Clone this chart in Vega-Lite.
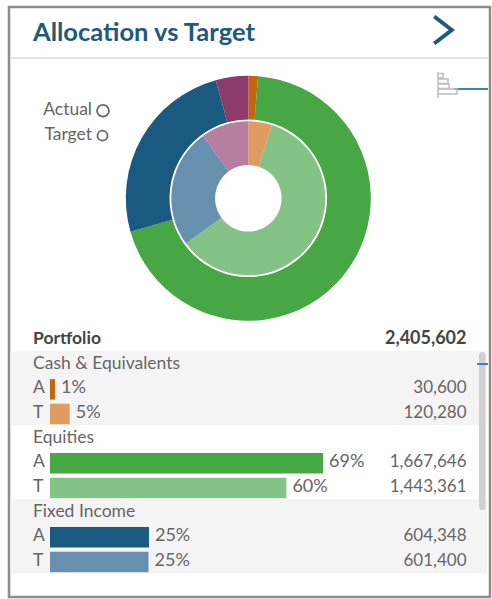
{
 "$schema":"https://vega.github.io/schema/vega-lite/v6.json",
 "width":481,"height":590,
 "autosize":{"type":"none"},
 "padding":{"left":9,"top":7,"right":2,"bottom":2},
 "background":"#ffffff",
 "view":{"stroke":"#8c8c8c","strokeWidth":2.5,"fill":"#ffffff"},
 "datasets":{
  "allocation":[
   {"group":"Cash & Equivalents","series":"Actual","key":"Cash A","amount":30600,"order":1},
   {"group":"Equities","series":"Actual","key":"Equities A","amount":1667646,"order":2},
   {"group":"Fixed Income","series":"Actual","key":"Fixed A","amount":604348,"order":3},
   {"group":"Other","series":"Actual","key":"Other A","amount":103008,"order":4},
   {"group":"Cash & Equivalents","series":"Target","key":"Cash T","amount":120280,"order":1},
   {"group":"Equities","series":"Target","key":"Equities T","amount":1443361,"order":2},
   {"group":"Fixed Income","series":"Target","key":"Fixed T","amount":601400,"order":3},
   {"group":"Other","series":"Target","key":"Other T","amount":240561,"order":4}
  ],
  "table":[
   {"row":"Portfolio","kind":"total","label":"Portfolio","amountText":"2,405,602","shade":false},
   {"row":"Cash","kind":"head","label":"Cash & Equivalents","shade":true},
   {"row":"Cash A","kind":"bar","label":"A","pct":1.27,"pctText":"1%","amountText":"30,600","shade":true},
   {"row":"Cash T","kind":"bar","label":"T","pct":5,"pctText":"5%","amountText":"120,280","shade":true},
   {"row":"Equities","kind":"head","label":"Equities","shade":false},
   {"row":"Equities A","kind":"bar","label":"A","pct":69.32,"pctText":"69%","amountText":"1,667,646","shade":false},
   {"row":"Equities T","kind":"bar","label":"T","pct":60,"pctText":"60%","amountText":"1,443,361","shade":false},
   {"row":"Fixed","kind":"head","label":"Fixed Income","shade":true},
   {"row":"Fixed A","kind":"bar","label":"A","pct":25.12,"pctText":"25%","amountText":"604,348","shade":true},
   {"row":"Fixed T","kind":"bar","label":"T","pct":25,"pctText":"25%","amountText":"601,400","shade":true}
  ],
  "legendRows":[{"name":"Actual"},{"name":"Target"}],
  "titleRows":[{"title":"Allocation vs Target"}],
  "furniture":[{"part":"x"}]
 },
 "data":{"name":"table"},
 "config":{"font":"Lato","text":{"font":"Lato"}},
 "encoding":{},
 "layer":[
  {"transform":[{"filter":"datum.shade"}],
   "mark":{"type":"rect","color":"#f4f4f4"},
   "encoding":{
    "y":{"field":"row","type":"nominal","sort":null,"axis":null,
      "scale":{"type":"band","domain":["Portfolio","Cash","Cash A","Cash T","Equities","Equities A","Equities T","Fixed","Fixed A","Fixed T"],"range":[319.7,566.3],"paddingInner":0,"paddingOuter":0}},
    "x":{"value":1.5},"x2":{"value":478}}},
  {"data":{"name":"furniture"},"mark":{"type":"rule","color":"#e4e4e4","strokeWidth":2},
   "encoding":{"x":{"value":1.5},"x2":{"value":479},"y":{"value":51}}},
  {"data":{"name":"furniture"},"mark":{"type":"rect","color":"#d0d0d0","cornerRadius":3},
   "encoding":{"x":{"value":470},"x2":{"value":476.5},"y":{"value":345},"y2":{"value":503}}},
  {"data":{"name":"furniture"},"mark":{"type":"rule","color":"#3b7fd4","strokeWidth":2},
   "encoding":{"x":{"value":445},"x2":{"value":479},"y":{"value":82}}},
  {"data":{"name":"furniture"},"mark":{"type":"rule","color":"#3b7fd4","strokeWidth":2},
   "encoding":{"x":{"value":468},"x2":{"value":479},"y":{"value":357}}},
  {"data":{"name":"furniture"},
   "mark":{"type":"point","opacity":1,"filled":false,"stroke":"#1f5a7a","strokeWidth":4,"size":729,"shape":"M-0.65,-1 L0.65,0 L-0.65,1"},
   "encoding":{"x":{"value":434},"y":{"value":23}}},
  {"data":{"name":"furniture"},
   "mark":{"type":"point","opacity":1,"filled":false,"stroke":"#bdbdbd","strokeWidth":1.5,"size":400,"shape":"M-0.9,-1.3 V1.3 M-0.9,-1.15 H-0.4 V-0.7 H-0.9 M-0.9,-0.6 H0.1 V-0.15 H-0.9 M-0.9,-0.1 H0.2 V0.35 H-0.9 M-0.9,0.4 H1 V0.9 H-0.9"},
   "encoding":{"x":{"value":438},"y":{"value":78}}},
  {"data":{"name":"titleRows"},
   "mark":{"type":"text","align":"left","baseline":"middle","font":"Lato","fontSize":25.5,"fontWeight":"bold","color":"#22597a"},
   "encoding":{"text":{"field":"title"},"x":{"value":24},"y":{"value":26}}},
  {"data":{"name":"allocation"},"transform":[{"filter":"datum.series==='Actual'"}],
   "mark":{"type":"arc","innerRadius":78.8,"outerRadius":122.5},
   "encoding":{
    "theta":{"field":"amount","type":"quantitative","stack":true},
    "order":{"field":"order","type":"ordinal"},
    "color":{"field":"key","type":"nominal","legend":null,
      "scale":{"domain":["Cash A","Equities A","Fixed A","Other A","Cash T","Equities T","Fixed T","Other T"],
               "range":["#c4660f","#47a745","#1b5a80","#8e3a6c","#e09c60","#85c285","#6690ad","#b67fa0"]}},
    "x":{"value":239.3},"y":{"value":191.3}}},
  {"data":{"name":"allocation"},"transform":[{"filter":"datum.series==='Target'"}],
   "mark":{"type":"arc","innerRadius":33.3,"outerRadius":77},
   "encoding":{
    "theta":{"field":"amount","type":"quantitative","stack":true},
    "order":{"field":"order","type":"ordinal"},
    "color":{"field":"key","type":"nominal","legend":null},
    "x":{"value":239.3},"y":{"value":191.3}}},
  {"data":{"name":"legendRows"},"transform":[{"filter":"datum.name==='Actual'"}],
   "mark":{"type":"text","align":"right","baseline":"middle","font":"Lato","fontSize":17.5,"color":"#666666"},
   "encoding":{"text":{"field":"name"},"x":{"value":83},"y":{"value":103}}},
  {"data":{"name":"legendRows"},"transform":[{"filter":"datum.name==='Target'"}],
   "mark":{"type":"text","align":"right","baseline":"middle","font":"Lato","fontSize":17.5,"color":"#666666"},
   "encoding":{"text":{"field":"name"},"x":{"value":83},"y":{"value":128}}},
  {"data":{"name":"legendRows"},"transform":[{"filter":"datum.name==='Actual'"}],
   "mark":{"type":"point","opacity":1,"filled":false,"stroke":"#666666","strokeWidth":1.8,"size":140},
   "encoding":{"x":{"value":94},"y":{"value":103.7}}},
  {"data":{"name":"legendRows"},"transform":[{"filter":"datum.name==='Target'"}],
   "mark":{"type":"point","opacity":1,"filled":false,"stroke":"#666666","strokeWidth":1.8,"size":100},
   "encoding":{"x":{"value":93.5},"y":{"value":128.7}}},
  {"transform":[{"filter":"datum.kind==='bar'"}],
   "mark":{"type":"bar","height":20.5,"yOffset":1},
   "encoding":{
    "y":{"field":"row","type":"nominal","sort":null},
    "x":{"field":"pct","type":"quantitative","axis":null,
      "scale":{"domain":[0,100],"range":[41,435],"nice":false,"zero":true}},
    "color":{"field":"row","type":"nominal","legend":null}}},
  {"transform":[{"filter":"datum.kind==='bar'"}],
   "mark":{"type":"text","align":"left","baseline":"middle","dx":6,"font":"Lato","fontSize":18,"color":"#666666"},
   "encoding":{"y":{"field":"row","type":"nominal","sort":null},
     "x":{"field":"pct","type":"quantitative"},"text":{"field":"pctText"}}},
  {"transform":[{"filter":"datum.kind!=='total'"}],
   "mark":{"type":"text","align":"left","baseline":"middle","font":"Lato","fontSize":17.5,"color":"#666666"},
   "encoding":{"y":{"field":"row","type":"nominal","sort":null},"x":{"value":24},"text":{"field":"label"}}},
  {"transform":[{"filter":"datum.kind==='bar'"}],
   "mark":{"type":"text","align":"right","baseline":"middle","font":"Lato","fontSize":17,"color":"#666666"},
   "encoding":{"y":{"field":"row","type":"nominal","sort":null},"x":{"value":457.5},"text":{"field":"amountText"}}},
  {"transform":[{"filter":"datum.kind==='total'"}],
   "mark":{"type":"text","align":"left","baseline":"middle","font":"Lato","fontSize":17.5,"fontWeight":"bold","color":"#444444"},
   "encoding":{"y":{"field":"row","type":"nominal","sort":null},"x":{"value":24},"text":{"field":"label"}}},
  {"transform":[{"filter":"datum.kind==='total'"}],
   "mark":{"type":"text","align":"right","baseline":"middle","font":"Lato","fontSize":18,"fontWeight":"bold","color":"#444444"},
   "encoding":{"y":{"field":"row","type":"nominal","sort":null},"x":{"value":457.5},"text":{"field":"amountText"}}}
 ]
}
